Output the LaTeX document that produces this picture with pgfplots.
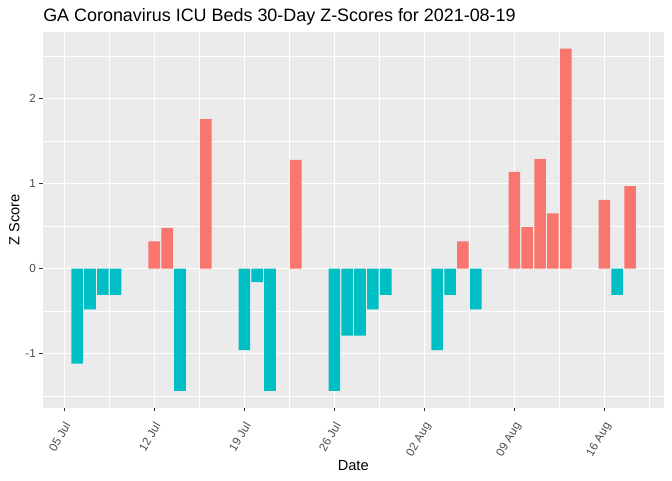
\documentclass[border=0pt]{standalone}
\usepackage{fontspec}
\setmainfont{Liberation Sans}
\usepackage{pgfplots}
\pgfplotsset{compat=1.18}
\definecolor{pos}{HTML}{F8766D}
\definecolor{neg}{HTML}{00BFC4}
\definecolor{panel}{HTML}{EBEBEB}
\definecolor{tickc}{HTML}{333333}
\definecolor{labc}{HTML}{4D4D4D}
\begin{document}
\begin{tikzpicture}[x=1bp,y=1bp]
\path[use as bounding box] (0,0) rectangle (504,360);
\begin{axis}[
  at={(32bp,54.2bp)}, anchor=south west,
  scale only axis, width=465.8bp, height=282bp,
  xmin=-1.68, xmax=46.62, ymin=-1.64, ymax=2.79,
  ybar, bar width=0.9,
  axis background/.style={fill=panel},
  axis line style={draw=none},
  xtick={0,7,...,42},
  xticklabels={05 Jul,12 Jul,19 Jul,26 Jul,02 Aug,09 Aug,16 Aug},
  minor xtick={3.5,10.5,...,45.5},
  ytick={-1,0,1,2}, yticklabels={-1,0,1,2},
  minor ytick={-1.5,-0.5,...,2.5},
  grid=both,
  major grid style={white, line width=1.07bp},
  minor grid style={white, line width=0.53bp},
  tick align=outside, xtick pos=lower, ytick pos=left,
  major tick length=2.75bp, minor tick length=0pt,
  tick style={tickc, line width=1.07bp},
  ticklabel style={font=\fontsize{8.8}{10}\selectfont, text=labc},
  xticklabel style={xshift=-0.5bp, yshift=-6.85bp, rotate=60, anchor=north east, inner sep=0pt},
  yticklabel style={inner sep=0pt, xshift=-2.2bp},
]
% days counted from 05 Jul 2021 = 0
\addplot[fill=neg, draw=none, bar shift=0pt] coordinates {
  (1,-1.12) (2,-0.48) (3,-0.31) (4,-0.31) (9,-1.44) (14,-0.96) (15,-0.16)
  (16,-1.44) (21,-1.44) (22,-0.79) (23,-0.79) (24,-0.48) (25,-0.31)
  (29,-0.96) (30,-0.31) (32,-0.48) (43,-0.31)
};
\addplot[fill=pos, draw=none, bar shift=0pt] coordinates {
  (7,0.32) (8,0.48) (11,1.76) (18,1.28) (31,0.32) (35,1.14) (36,0.49)
  (37,1.29) (38,0.65) (39,2.59) (42,0.81) (44,0.97)
};
\end{axis}
\node[anchor=base west, inner sep=0pt, font=\fontsize{13.5}{15}\selectfont] at (32.25,343.7) {GA Coronavirus ICU Beds 30-Day Z-Scores for 2021-08-19};
\node[anchor=base, inner sep=0pt, font=\fontsize{11}{13}\selectfont] at (264.9,7) {Date};
\node[anchor=base, rotate=90, inner sep=0pt, font=\fontsize{11}{13}\selectfont] at (14.5,195.2) {Z Score};
\end{tikzpicture}
\end{document}
